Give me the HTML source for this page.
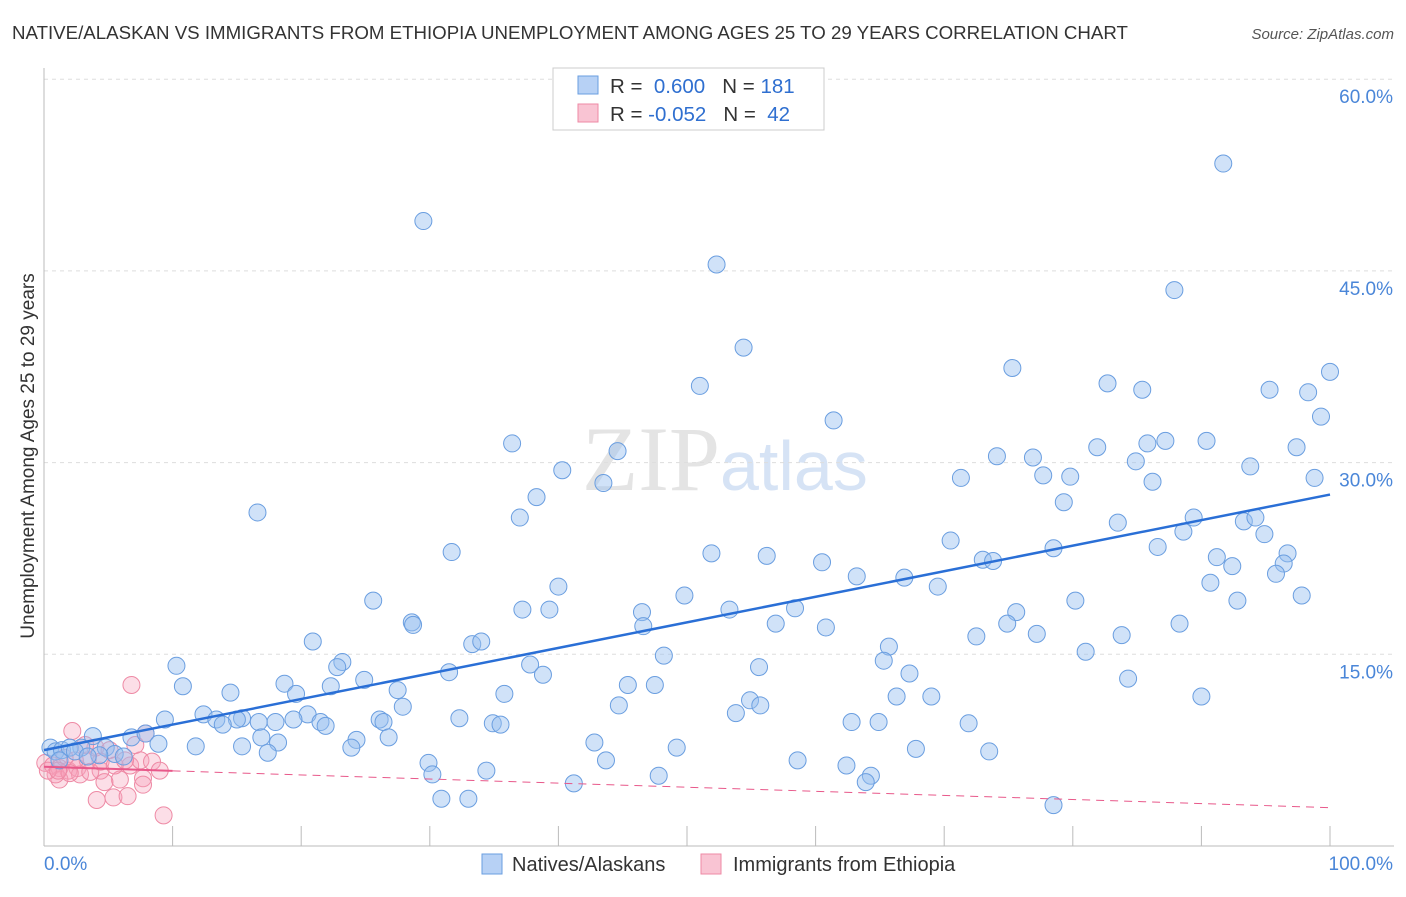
<!DOCTYPE html>
<html><head><meta charset="utf-8"><style>
body{margin:0;background:#fff;font-family:"Liberation Sans",sans-serif;}
</style></head><body>
<svg id="c" width="1406" height="892" xmlns="http://www.w3.org/2000/svg">
<text x="12" y="39" font-size="18.7" fill="#333">NATIVE/ALASKAN VS IMMIGRANTS FROM ETHIOPIA UNEMPLOYMENT AMONG AGES 25 TO 29 YEARS CORRELATION CHART</text>
<text x="1394" y="39" font-size="15" fill="#555" font-style="italic" text-anchor="end">Source: ZipAtlas.com</text>
<text x="720" y="490" font-size="92" fill="#e4e4e4" text-anchor="end" font-family="Liberation Serif">ZIP</text>
<text x="720" y="490" font-size="70" fill="#d6e3f5">atlas</text>
<text transform="translate(34,456) rotate(-90)" font-size="19" fill="#333" text-anchor="middle">Unemployment Among Ages 25 to 29 years</text>
<g id="grid"></g><g id="pts"></g><g id="lines"></g>
<g>
<rect x="553" y="68" width="271" height="62" fill="#fff" stroke="#ccc"/>
<rect x="578" y="76" width="20" height="18" fill="#b7d1f5" stroke="#6a9ee0"/>
<rect x="578" y="104" width="20" height="18" fill="#f9c4d3" stroke="#ee8aa5"/>
<text x="610" y="93" font-size="20.5" fill="#333">R = <tspan fill="#2f6fd0">&#160;0.600</tspan>&#160;&#160;&#160;N = <tspan fill="#2f6fd0">181</tspan></text>
<text x="610" y="121" font-size="20.5" fill="#333">R = <tspan fill="#2f6fd0">-0.052</tspan>&#160;&#160;&#160;N = <tspan fill="#2f6fd0">&#160;42</tspan></text>
</g>
<g>
<rect x="482" y="854" width="20" height="20" fill="#b7d1f5" stroke="#6a9ee0"/>
<text x="512" y="871" font-size="20" fill="#333">Natives/Alaskans</text>
<rect x="701" y="854" width="20" height="20" fill="#f9c4d3" stroke="#ee8aa5"/>
<text x="733" y="871" font-size="20" fill="#333">Immigrants from Ethiopia</text>
</g>
</svg>
<script>
const yTicks=[15,30,45,60];
const xTickLabels=["0.0%","100.0%"];
const blueX=[91.7,29.5,52.3,87.9,54.4,75.3,100,51.0,82.7,85.4,95.3,98.3,61.4,99.3,36.4,44.6,81.9,85.8,87.2,90.4,97.4,74.1,76.9,84.9,93.8,40.3,71.3,77.7,79.8,43.5,86.2,98.8,38.3,79.3,16.6,37.0,83.5,89.4,93.3,94.2,88.6,94.9,70.5,31.7,78.5,86.6,51.9,56.2,96.7,91.2,73.0,73.8,60.5,96.4,92.4,95.8,63.2,66.9,90.7,69.5,40.0,49.8,25.6,80.2,92.8,97.8,37.2,39.3,46.5,53.3,58.4,75.6,28.6,28.7,56.9,46.6,60.8,74.9,88.3,72.5,77.2,83.8,20.9,33.3,34.0,65.7,48.2,81.0,23.2,10.3,37.8,22.8,55.6,65.3,31.5,38.8,67.3,18.7,24.9,84.3,10.8,22.3,45.4,47.5,27.5,14.5,19.6,35.8,66.3,69.0,90.0,54.9,55.7,27.9,44.7,12.4,53.8,13.4,15.4,20.5,9.4,32.3,15.0,18.0,19.4,21.5,26.1,26.4,34.9,35.5,62.8,64.9,71.9,13.9,16.7,21.9,16.9,3.8,6.8,7.9,11.8,18.2,24.3,26.8,42.8,4.8,15.4,8.9,2.9,5.5,6.2,23.9,17.4,49.2,67.8,73.5,29.9,43.7,58.6,62.4,30.2,34.4,47.8,64.3,63.9,41.2,30.9,33.0,78.5,0.5,0.9,1.4,2.0,2.4,4.3,1.2,3.4];
const blueY=[53.4,48.9,45.5,43.5,39.0,37.4,37.1,36.0,36.2,35.7,35.7,35.5,33.3,33.6,31.5,30.9,31.2,31.5,31.7,31.7,31.2,30.5,30.4,30.1,29.7,29.4,28.8,29.0,28.9,28.4,28.5,28.8,27.3,26.9,26.1,25.7,25.3,25.7,25.4,25.7,24.6,24.4,23.9,23.0,23.3,23.4,22.9,22.7,22.9,22.6,22.4,22.3,22.2,22.1,21.9,21.3,21.1,21.0,20.6,20.3,20.3,19.6,19.2,19.2,19.2,19.6,18.5,18.5,18.3,18.5,18.6,18.3,17.5,17.3,17.4,17.2,17.1,17.4,17.4,16.4,16.6,16.5,16.0,15.8,16.0,15.6,14.9,15.2,14.4,14.1,14.2,14.0,14.0,14.5,13.6,13.4,13.5,12.7,13.0,13.1,12.5,12.5,12.6,12.6,12.2,12.0,11.9,11.9,11.7,11.7,11.7,11.4,11.0,10.9,11.0,10.3,10.4,9.9,10.0,10.3,9.9,10.0,9.9,9.7,9.9,9.7,9.9,9.7,9.6,9.5,9.7,9.7,9.6,9.5,9.7,9.4,8.5,8.6,8.5,8.8,7.8,8.1,8.3,8.5,8.1,7.7,7.8,8.0,7.7,7.2,7.0,7.7,7.3,7.7,7.6,7.4,6.5,6.7,6.7,6.3,5.6,5.9,5.5,5.5,5.0,4.9,3.7,3.7,3.2,7.7,7.4,7.5,7.7,7.4,7.1,6.7,7.0];
const pinkX=[6.8,2.2,7.9,0.1,0.7,1.2,1.9,2.6,3.4,4.0,5.1,6.7,7.5,8.4,1.2,2.8,4.4,5.9,7.7,7.7,4.1,5.4,6.5,9.3,4.7,2.4,3.2,0.9,1.6,0.3,3.6,7.1,4.4,5.5,2.0,9.0,6.3,1.1];
const pinkY=[12.6,9.0,8.8,6.5,6.3,6.1,5.9,6.1,6.7,7.7,7.5,6.3,6.7,6.6,5.2,5.6,5.9,5.2,5.3,4.8,3.6,3.8,3.9,2.4,5.0,6.7,7.9,5.6,6.9,5.9,5.8,7.9,6.6,6.3,5.7,5.9,6.7,5.9];
const blueTrend=[7.5,27.5];
const pinkTrend=[6.2,3.0];
const NS="http://www.w3.org/2000/svg";
const X=v=>44+v*12.86, Y=v=>846-v*12.78;
function mk(p,t,a){const e=document.createElementNS(NS,t);for(const k in a)e.setAttribute(k,a[k]);p.appendChild(e);return e;}
const g=document.getElementById('grid');
yTicks.forEach(t=>{
 const l=mk(g,'line',{x1:44,x2:1394,y1:Y(t),y2:Y(t),stroke:'#ddd','stroke-dasharray':'4,4'});
 
 
 const tx=mk(g,'text',{x:1393,y:Y(t)+24,'font-size':19,fill:'#4a86d8','text-anchor':'end'});tx.textContent=t.toFixed(1)+'%';
 
 
});
mk(g,'line',{x1:44,x2:44,y1:68,y2:846,stroke:'#bbb'});
mk(g,'line',{x1:44,x2:1394,y1:846,y2:846,stroke:'#bbb'});
for(let i=1;i<=10;i++){mk(g,'line',{x1:X(i*10),x2:X(i*10),y1:826,y2:846,stroke:'#bbb'});}
const t0=mk(g,'text',{x:44,y:870,'font-size':19,fill:'#4a86d8'});t0.textContent=xTickLabels[0];


const t1=mk(g,'text',{x:1393,y:870,'font-size':19,fill:'#4a86d8','text-anchor':'end'});t1.textContent=xTickLabels[1];


const pg=document.getElementById('pts');
pinkX.forEach((x,i)=>{const c=mk(pg,'circle',{cx:X(x),cy:Y(pinkY[i]),r:8.5,fill:'rgba(245,160,185,0.35)',stroke:'#ee8aa5','stroke-width':1});
 
 });
blueX.forEach((x,i)=>{const c=mk(pg,'circle',{cx:X(x),cy:Y(blueY[i]),r:8.5,fill:'rgba(150,190,240,0.45)',stroke:'#6a9ee0','stroke-width':1});
 
 });
const lg=document.getElementById('lines');
const bl=mk(lg,'line',{x1:X(0),y1:Y(blueTrend[0]),x2:X(100),y2:Y(blueTrend[1]),stroke:'#2a6fd6','stroke-width':2.5});


const py=x=>pinkTrend[0]+(pinkTrend[1]-pinkTrend[0])*x/100;
const ps=mk(lg,'line',{x1:X(0),y1:Y(py(0)),x2:X(10),y2:Y(py(10)),stroke:'#e8588a','stroke-width':2});


const pd=mk(lg,'line',{x1:X(10),y1:Y(py(10)),x2:X(100),y2:Y(py(100)),stroke:'#e8588a','stroke-width':1,'stroke-dasharray':'8,6'});


</script>
</body></html>
